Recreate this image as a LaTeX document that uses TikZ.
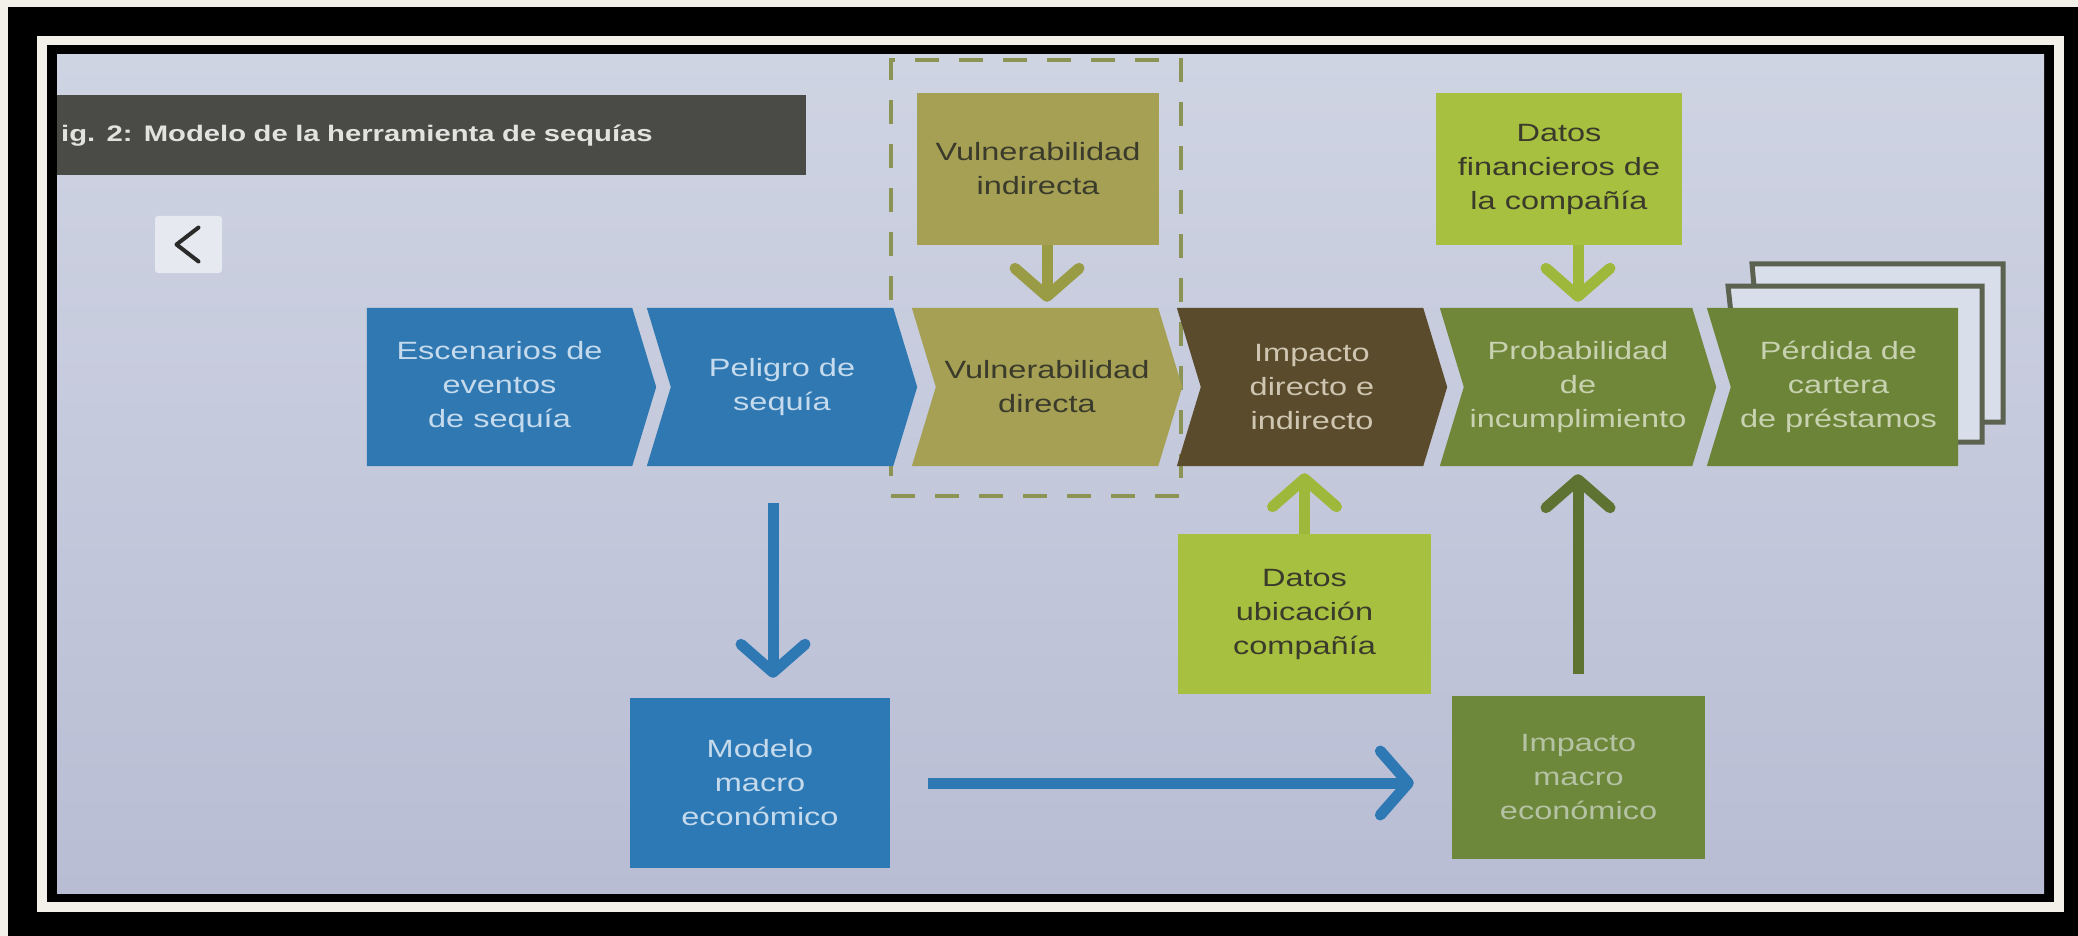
\documentclass[tikz,border=0pt]{standalone}
\usepackage{fontspec}
\setmainfont[FakeStretch=1.3]{Liberation Sans}
\usetikzlibrary{calc,arrows.meta}
\pgfdeclarelayer{back}
\pgfdeclarelayer{mid}
\pgfsetlayers{back,mid,main}

\definecolor{cream}{HTML}{F2F0E8}
\definecolor{bgtop}{HTML}{CFD4E3}
\definecolor{bgbot}{HTML}{B9BDD4}
\definecolor{titlebg}{HTML}{4A4A47}
\definecolor{titletx}{HTML}{E2E2E0}
\definecolor{btnbg}{HTML}{E6E9EF}
\definecolor{btnfg}{HTML}{2A2A2A}
\definecolor{cblue}{HTML}{2F78B2}
\definecolor{cblueb}{HTML}{2D79B5}
\definecolor{ckhaki}{HTML}{A6A055}
\definecolor{cbrown}{HTML}{5B4B2D}
\definecolor{colive}{HTML}{708639}
\definecolor{colive2}{HTML}{6C8438}
\definecolor{cyg}{HTML}{A8C040}
\definecolor{cim}{HTML}{6D873B}
\definecolor{txblue}{HTML}{C5DAEC}
\definecolor{txdark}{HTML}{3B3B2B}
\definecolor{txbrown}{HTML}{CFC6B2}
\definecolor{txolive}{HTML}{C8D2B0}
\definecolor{txim}{HTML}{B5C3A4}
\definecolor{dashc}{HTML}{8C9455}
\definecolor{pagefill}{HTML}{D9DFEA}
\definecolor{pageline}{HTML}{5C6250}
\definecolor{arrkhaki}{HTML}{9A9B45}
\definecolor{arryg}{HTML}{9DB83A}
\definecolor{arrolive}{HTML}{5E7332}
\definecolor{arrblue}{HTML}{2E78B4}

\newcommand\dfont{\fontsize{25}{34}\selectfont}
\newcommand\tfont{\fontsize{22.5}{27}\selectfont\bfseries}

\newcommand\chevboth[2]{\fill[#2] ($(#1.north west)+(-12,0)$) -- ($(#1.north east)+(-12,0)$) -- ($(#1.east)+(12,0)$) -- ($(#1.south east)+(-12,0)$) -- ($(#1.south west)+(-12,0)$) -- ($(#1.west)+(12,0)$) -- cycle;}

\tikzset{
  chev/.style={minimum height=158pt, inner sep=0pt, align=center, font=\dfont},
  boxn/.style={inner sep=0pt, align=center, font=\dfont},
  arr/.style={line width=11pt, -{Straight Barb[length=28pt,width=64pt,round]}},
  pagebox/.style={fill=pagefill, draw=pageline, line width=5pt, line join=miter}
}

\begin{document}
\begin{tikzpicture}[x=1pt,y=-1pt]
\useasboundingbox (0,0) rectangle (2078,936);

% ---------- chevron row (nodes) ----------
\node[chev, minimum width=265pt, text=txblue] (c1) at (499.5,387) {Escenarios de\\eventos\\de sequía};
\node[chev, minimum width=246pt, text=txblue] (c2) at (782,387) {Peligro de\\sequía};
\node[chev, minimum width=246pt, text=txdark] (c3) at (1047,387) {Vulnerabilidad\\directa};
\node[chev, minimum width=246pt, text=txbrown] (c4) at (1312,387) {Impacto\\directo e\\indirecto};
\node[chev, minimum width=252pt, text=txolive] (c5) at (1578,387) {Probabilidad\\de\\incumplimiento};
\node[chev, minimum width=239pt, text=txolive] (c6) at (1838.5,387) {Pérdida de\\cartera\\de préstamos};

% ---------- boxes ----------
\node[boxn, minimum width=242pt, minimum height=152pt, fill=ckhaki, text=txdark] (vi) at (1038,169) {Vulnerabilidad\\indirecta};
\node[boxn, minimum width=246pt, minimum height=152pt, fill=cyg, text=txdark] (df) at (1559,169) {Datos\\financieros de\\la compañía};
\node[boxn, minimum width=253pt, minimum height=160pt, fill=cyg, text=txdark] (du) at (1304.5,614) {Datos\\ubicación\\compañía};
\node[boxn, minimum width=260pt, minimum height=170pt, fill=cblueb, text=txblue] (mm) at (760,783) {Modelo\\macro\\económico};
\node[boxn, minimum width=253pt, minimum height=163pt, fill=cim, text=txim] (im) at (1578.5,777.5) {Impacto\\macro\\económico};

% ---------- title and button ----------
\node[fill=titlebg, minimum width=749pt, minimum height=80pt, text width=741pt, inner xsep=4pt, inner ysep=0pt, align=left, anchor=north west, text=titletx, font=\tfont] (title) at (57,95) {ig. 2: Modelo de la herramienta de sequías};
\node[fill=btnbg, rounded corners=3pt, minimum width=67pt, minimum height=57pt, inner sep=0pt] (btn) at (188.5,244.5) {};
\draw[btnfg, line width=4pt, line cap=round, line join=round] ($(btn.center)+(10,-17)$) -- ($(btn.center)+(-12,0)$) -- ($(btn.center)+(10,17)$);

% ---------- background layer ----------
\begin{pgfonlayer}{back}
\fill[black] (0,0) rectangle (2078,936);
\fill[cream] (0,0) rectangle (2078,7);
\fill[cream] (0,0) rectangle (8,936);
\draw[cream, line width=9.5pt] (42,40.5) rectangle (2059,907);
\shade[top color=bgtop, bottom color=bgbot] (57,55) rectangle (2044,893);
\node[draw=dashc, line width=4pt, dash pattern=on 24pt off 20pt, minimum width=290pt, minimum height=436pt, inner sep=0pt] (grp) at (1036,278) {};
% stacked pages behind the last chevron
\path[pagebox] (1752,264) -- (2003,264) -- (2003,422) -- (1766,422) -- cycle;
\path[pagebox] (1728,286) -- (1982,286) -- (1982,442) -- (1745,442) -- cycle;
\end{pgfonlayer}

% ---------- chevron fills ----------
\begin{pgfonlayer}{mid}
\fill[cblue] (c1.north west) -- (c1.north east) -- ($(c1.east)+(24,0)$) -- (c1.south east) -- (c1.south west) -- cycle;
\chevboth{c2}{cblue}
\chevboth{c3}{ckhaki}
\chevboth{c4}{cbrown}
\chevboth{c5}{colive}
\fill[colive2] ($(c6.north west)+(-12,0)$) -- (c6.north east) -- (c6.south east) -- ($(c6.south west)+(-12,0)$) -- ($(c6.west)+(12,0)$) -- cycle;
\end{pgfonlayer}

% ---------- connectors ----------
\draw[arr, arrkhaki, shorten >=6pt] (c3.north |- vi.south) -- (c3.north);
\draw[arr, arryg, shorten >=6pt] (c5.north |- df.south) -- (c5.north);
\draw[arr, arryg, shorten >=7pt] (du.north) -- (du.north |- c4.south);
\draw[arr, arrolive, shorten <=22pt, shorten >=8pt] (c5.south |- im.north) -- (c5.south);
\draw[arr, arrblue, shorten <=37pt, shorten >=20pt] ([xshift=-9pt]c2.south) -- ([xshift=-9pt]c2.south |- mm.north);
\draw[arr, arrblue, shorten <=38pt, shorten >=38pt] (mm.east) -- (mm.east -| im.west);
\end{tikzpicture}
\end{document}
